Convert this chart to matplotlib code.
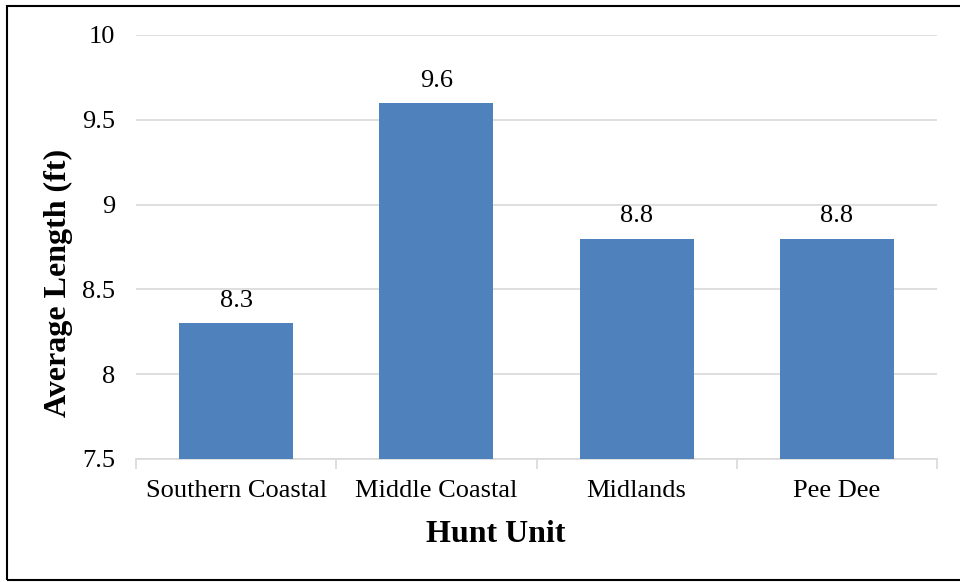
import matplotlib
matplotlib.use("Agg")
import matplotlib.pyplot as plt
from matplotlib.patches import Rectangle

categories = ["Southern Coastal", "Middle Coastal", "Midlands", "Pee Dee"]
avg_length = [8.3, 9.6, 8.8, 8.8]
y_ticks = [7.5, 8, 8.5, 9, 9.5, 10]
y_tick_labels = ["7.5", "8", "8.5", "9", "9.5", "10"]

plt.rcParams["font.family"] = ["Liberation Serif", "DejaVu Serif"]

fig = plt.figure(figsize=(9.6, 5.82), dpi=100)
ax = fig.add_axes([136 / 960, 1 - 459 / 582, (937 - 136) / 960, (459 - 35) / 582])

x = list(range(len(categories)))
ax.bar(x, avg_length, width=0.57, color="#4f81bd", zorder=3)

ax.set_ylim(7.5, 10)
ax.set_xlim(-0.5, len(categories) - 0.5)
ax.set_yticks(y_ticks)
ax.set_yticklabels(y_tick_labels)
ax.yaxis.grid(True, color="#d9d9d9", linewidth=1.2, zorder=0)
ax.tick_params(axis="y", length=0, pad=15, labelsize=19)

ax.set_xticks(x)
ax.set_xticklabels(categories)
ax.tick_params(axis="x", length=0, pad=15, labelsize=19)
ax.set_xticks([i - 0.5 for i in range(len(categories) + 1)], minor=True)
ax.tick_params(axis="x", which="minor", length=7, width=1.2, color="#d9d9d9")

for side in ["top", "right", "left"]:
    ax.spines[side].set_visible(False)
ax.spines["bottom"].set_color("#d9d9d9")
ax.spines["bottom"].set_linewidth(1.2)

for xi, v in zip(x, avg_length):
    ax.annotate(f"{v:.1f}", (xi, v), xytext=(0, 8), textcoords="offset points",
                ha="center", va="bottom", fontsize=19)

fig.text(496 / 960, 1 - 535 / 582, "Hunt Unit", fontsize=23, fontweight="bold",
         ha="center", va="center")
fig.text(58 / 960, 1 - 283 / 582, "Average Length (ft)", fontsize=23, fontweight="bold",
         ha="center", va="center", rotation=90)

# outer frame; its right edge runs past the canvas
fig.patches.append(Rectangle((7 / 960, 2 / 582), 970 / 960, 574.5 / 582, transform=fig.transFigure,
                             fill=False, edgecolor="black", linewidth=1.5, clip_on=False))

fig.savefig("out.png", dpi=100)
